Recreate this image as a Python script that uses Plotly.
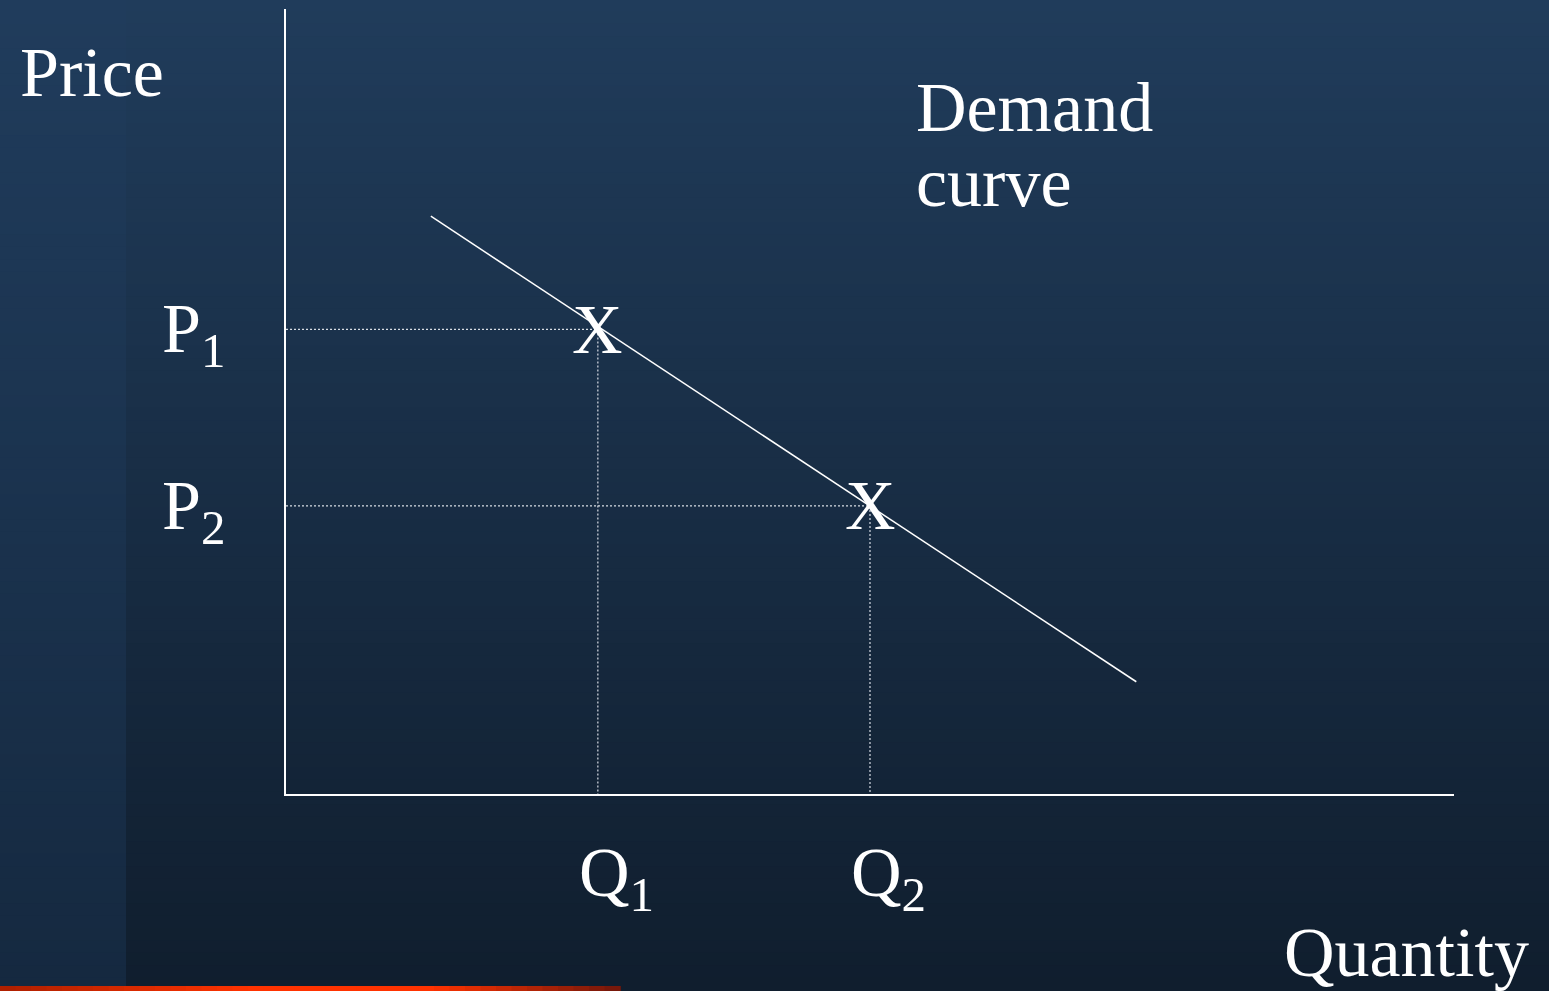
import plotly.graph_objects as go

# ---- diagram data ----
demand_q = [1.24, 7.28]          # demand curve endpoints (quantity)
demand_p = [7.36, 1.43]          # demand curve endpoints (price)
quantities = [2.67, 5.0]         # Q1, Q2
prices = [5.92, 3.67]            # P1, P2
price_labels = ["P<sub>1</sub>", "P<sub>2</sub>"]
qty_labels = ["Q<sub>1</sub>", "Q<sub>2</sub>"]

W, H = 1549, 991
FONT = "Liberation Serif"
FS = 70
WHITE = "#ffffff"

fig = go.Figure()

# demand curve
fig.add_trace(go.Scatter(x=demand_q, y=demand_p, mode="lines",
                         line=dict(color=WHITE, width=1.5), hoverinfo="skip"))

# dotted guides from each point to the axes
for q, p in zip(quantities, prices):
    fig.add_trace(go.Scatter(x=[0, q, q], y=[p, p, 0], mode="lines",
                             line=dict(color="#d8dde4", width=1.2, dash="2px,2px"),
                             hoverinfo="skip"))


def lerp(c0, c1, t):
    return "rgb(%d,%d,%d)" % tuple(round(a + (b - a) * t) for a, b in zip(c0, c1))


shapes = []
# vertical background gradient, main area
n = 80
for i in range(n):
    t = i / (n - 1)
    shapes.append(dict(type="rect", xref="paper", yref="paper", layer="below",
                       x0=0, x1=1, y0=1 - (i + 1) / n, y1=1 - i / n + 0.001,
                       fillcolor=lerp((32, 60, 91), (16, 30, 46), t), line_width=0))
# slightly lighter strip along the left edge
for i in range(n):
    t = i / (n - 1)
    shapes.append(dict(type="rect", xref="paper", yref="paper", layer="below",
                       x0=0, x1=126 / W, y0=1 - (i + 1) / n, y1=1 - i / n + 0.001,
                       fillcolor=lerp((32, 60, 92), (21, 41, 64), t), line_width=0))
# accent bar at the bottom
m = 40
bar_w = 620 / W
for i in range(m):
    t = i / (m - 1)
    if t < 0.4:
        col = lerp((176, 32, 0), (255, 51, 0), t / 0.4)
    elif t < 0.7:
        col = "rgb(255,51,0)"
    else:
        col = lerp((255, 51, 0), (120, 24, 10), (t - 0.7) / 0.3)
    shapes.append(dict(type="rect", xref="paper", yref="paper", layer="below",
                       x0=bar_w * i / m, x1=bar_w * (i + 1) / m + 0.0005,
                       y0=0, y1=5 / H, fillcolor=col, line_width=0))

font = dict(family=FONT, size=FS, color=WHITE)
ann = []


def px_x(x):
    return x / W


def px_y(y):
    return 1 - y / H


ann.append(dict(text="Price", xref="paper", yref="paper", x=px_x(18), y=px_y(72),
                xanchor="left", yanchor="middle", showarrow=False, font=font))
ann.append(dict(text="Quantity", xref="paper", yref="paper", x=px_x(1282), y=px_y(952),
                xanchor="left", yanchor="middle", showarrow=False, font=font))
ann.append(dict(text="Demand", xref="paper", yref="paper", x=px_x(914), y=px_y(107),
                xanchor="left", yanchor="middle", showarrow=False, font=font))
ann.append(dict(text="curve", xref="paper", yref="paper", x=px_x(914), y=px_y(182),
                xanchor="left", yanchor="middle", showarrow=False, font=font))

for q, p, pl, ql in zip(quantities, prices, price_labels, qty_labels):
    ann.append(dict(text="X", xref="x", yref="y", x=q, y=p, xanchor="center",
                    yanchor="middle", showarrow=False, font=font))
    ann.append(dict(text=pl, xref="paper", yref="y", x=px_x(160), y=p, xanchor="left",
                    yanchor="middle", yshift=-5, showarrow=False, font=font))
    ann.append(dict(text=ql, xref="x", yref="paper", x=q, y=px_y(878), xanchor="left",
                    xshift=-21, yanchor="middle", showarrow=False, font=font))

axis_common = dict(showgrid=False, zeroline=False, showticklabels=False, ticks="",
                   showline=True, linecolor=WHITE, linewidth=2, range=[0, 10], fixedrange=True)

fig.update_layout(
    width=W, height=H, margin=dict(l=0, r=0, t=0, b=0),
    paper_bgcolor="#18304a", plot_bgcolor="rgba(0,0,0,0)",
    showlegend=False,
    xaxis=dict(domain=[286 / W, 1454 / W], **axis_common),
    yaxis=dict(domain=[1 - 794 / H, 1 - 9 / H], **axis_common),
    shapes=shapes, annotations=ann,
)

fig.write_html("out.html", config={"displayModeBar": False})
